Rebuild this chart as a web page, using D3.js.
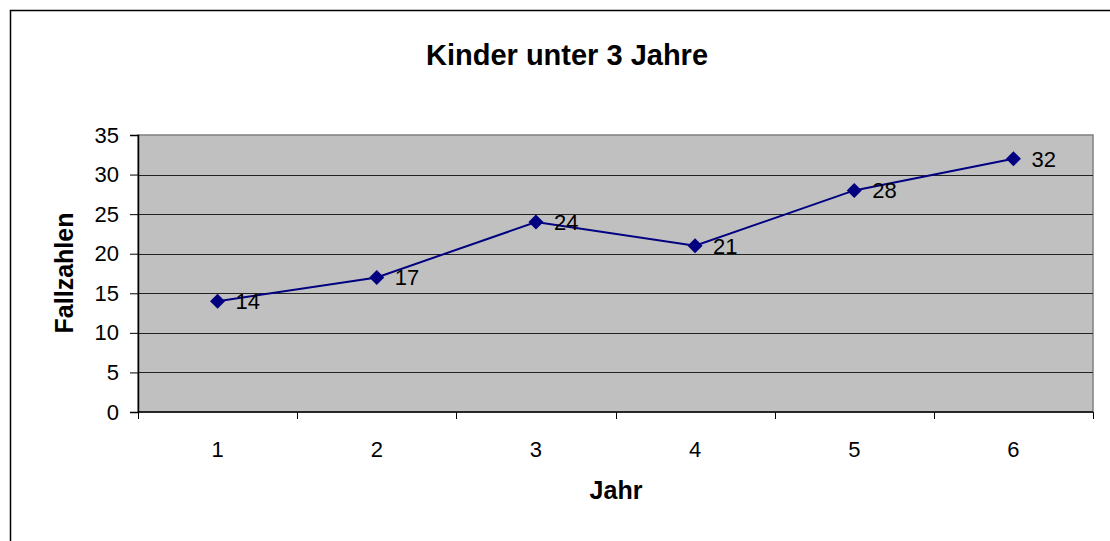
<!DOCTYPE html>
<html>
<head>
<meta charset="utf-8">
<script src="https://cdn.jsdelivr.net/npm/d3@7"></script>
<style>
  body { margin: 0; background: #fff; }
  svg { display: block; font-family: "Liberation Sans", Arial, sans-serif; }
</style>
</head>
<body>
<svg id="chart" width="1110" height="541"></svg>
<script>
// data
var years = ["1", "2", "3", "4", "5", "6"];
var cases = [14, 17, 24, 21, 28, 32];
var yTicks = [0, 5, 10, 15, 20, 25, 30, 35];

var svg = d3.select("#chart");

// outer frame
svg.append("rect")
  .attr("x", 10.5).attr("y", 10.5)
  .attr("width", 1110).attr("height", 541)
  .attr("fill", "none")
  .attr("stroke", "#000")
  .attr("stroke-width", 1.5);

var plot = { left: 138, top: 135, right: 1093, bottom: 412 };

var x = d3.scaleBand()
  .domain(years)
  .range([plot.left, plot.right]);

var y = d3.scaleLinear()
  .domain([0, 35])
  .range([plot.bottom, plot.top]);

// plot area
svg.append("rect")
  .attr("x", plot.left).attr("y", plot.top)
  .attr("width", plot.right - plot.left)
  .attr("height", plot.bottom - plot.top)
  .attr("fill", "#c0c0c0")
  .attr("stroke", "#808080")
  .attr("stroke-width", 1.5);

// gridlines
svg.append("g")
  .selectAll("line")
  .data(yTicks.filter(function (d) { return d > 0 && d < 35; }))
  .enter().append("line")
  .attr("x1", plot.left).attr("x2", plot.right)
  .attr("y1", function (d) { return Math.round(y(d)) + 0.5; })
  .attr("y2", function (d) { return Math.round(y(d)) + 0.5; })
  .attr("stroke", "#222")
  .attr("stroke-width", 1);

// y axis
var yAxis = svg.append("g")
  .attr("transform", "translate(" + plot.left + ",0)")
  .call(d3.axisLeft(y).tickValues(yTicks).tickSize(8).tickPadding(11));
yAxis.select(".domain").attr("stroke", "#000").attr("stroke-width", 1.5);
yAxis.selectAll(".tick line").attr("stroke", "#000");
yAxis.selectAll("text")
  .attr("font-size", 22)
  .attr("fill", "#000")
  .style("font-family", "Liberation Sans, Arial, sans-serif");

// x axis: ticks at band boundaries
var xAxisG = svg.append("g");
xAxisG.append("line")
  .attr("x1", plot.left).attr("x2", plot.right)
  .attr("y1", plot.bottom).attr("y2", plot.bottom)
  .attr("stroke", "#000").attr("stroke-width", 1.5);
var bounds = years.map(function (d) { return x(d); }).concat([x(years[years.length - 1]) + x.bandwidth()]);
xAxisG.selectAll("line.tick")
  .data(bounds)
  .enter().append("line")
  .attr("class", "tick")
  .attr("x1", function (d) { return Math.round(d) + 0.5; })
  .attr("x2", function (d) { return Math.round(d) + 0.5; })
  .attr("y1", plot.bottom).attr("y2", plot.bottom + 7)
  .attr("stroke", "#000");
xAxisG.selectAll("text")
  .data(years)
  .enter().append("text")
  .attr("x", function (d) { return x(d) + x.bandwidth() / 2; })
  .attr("y", 457)
  .attr("text-anchor", "middle")
  .attr("font-size", 22)
  .text(function (d) { return d; });

// line
var line = d3.line()
  .x(function (d, i) { return x(years[i]) + x.bandwidth() / 2; })
  .y(function (d) { return y(d); });

svg.append("path")
  .datum(cases)
  .attr("d", line)
  .attr("fill", "none")
  .attr("stroke", "#000080")
  .attr("stroke-width", 2);

// markers
svg.append("g")
  .selectAll("path")
  .data(cases)
  .enter().append("path")
  .attr("transform", function (d, i) {
    return "translate(" + (x(years[i]) + x.bandwidth() / 2) + "," + y(d) + ")";
  })
  .attr("d", "M0,-7.5L7.5,0L0,7.5L-7.5,0Z")
  .attr("fill", "#000080");

// data labels
svg.append("g")
  .selectAll("text")
  .data(cases)
  .enter().append("text")
  .attr("x", function (d, i) { return x(years[i]) + x.bandwidth() / 2 + 18; })
  .attr("y", function (d) { return y(d) + 8; })
  .attr("font-size", 22)
  .text(function (d) { return d; });

// titles
svg.append("text")
  .attr("x", 567).attr("y", 65)
  .attr("text-anchor", "middle")
  .attr("font-size", 29)
  .attr("font-weight", "bold")
  .text("Kinder unter 3 Jahre");

svg.append("text")
  .attr("x", 616).attr("y", 499)
  .attr("text-anchor", "middle")
  .attr("font-size", 25)
  .attr("font-weight", "bold")
  .text("Jahr");

svg.append("text")
  .attr("transform", "translate(73,273) rotate(-90)")
  .attr("text-anchor", "middle")
  .attr("font-size", 25)
  .attr("font-weight", "bold")
  .text("Fallzahlen");
</script>
</body>
</html>
